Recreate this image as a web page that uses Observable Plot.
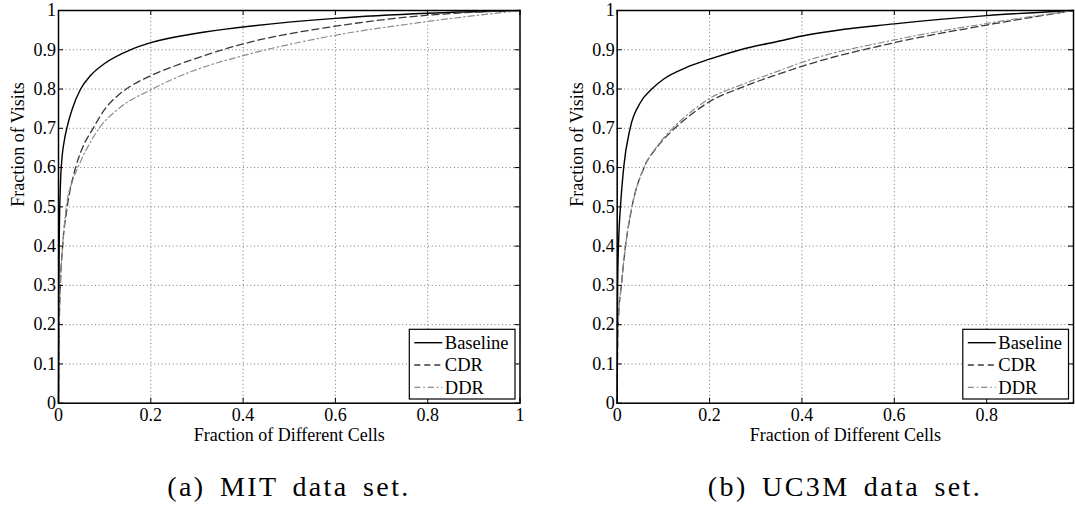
<!DOCTYPE html>
<html><head><meta charset="utf-8">
<script src="https://cdn.jsdelivr.net/npm/d3@7"></script>
<script src="https://cdn.jsdelivr.net/npm/@observablehq/plot@0.6"></script>
<style>
html,body{margin:0;padding:0;background:#fff;}
#root{position:relative;width:1075px;height:516px;overflow:hidden;background:#fff;}
.panel{position:absolute;top:0;}
.cap{position:absolute;top:471px;font-family:"Liberation Serif";font-size:28px;letter-spacing:2.4px;word-spacing:5px;transform:translateX(-50%);white-space:nowrap;color:#000;}
</style></head><body>
<div id="root"></div>
<script>
// ---- data ----
const seriesNames = ["Baseline", "CDR", "DDR"];
const yTicks = [0, 0.1, 0.2, 0.3, 0.4, 0.5, 0.6, 0.7, 0.8, 0.9, 1];
const yTickLabels = ["0", "0.1", "0.2", "0.3", "0.4", "0.5", "0.6", "0.7", "0.8", "0.9", "1"];
const mitXTicks = [0, 0.2, 0.4, 0.6, 0.8, 1];
const mitXTickLabels = ["0", "0.2", "0.4", "0.6", "0.8", "1"];
const uc3mXTicks = [0, 0.2, 0.4, 0.6, 0.8];
const uc3mXTickLabels = ["0", "0.2", "0.4", "0.6", "0.8"];

// MIT data set
const mitBaseX = [0, 0.0005, 0.001, 0.002, 0.004, 0.008, 0.012, 0.019, 0.03, 0.048, 0.07, 0.1, 0.156, 0.2, 0.3, 0.4, 0.6, 0.8, 1];
const mitBaseY = [0, 0.2, 0.33, 0.45, 0.55, 0.63, 0.665, 0.705, 0.75, 0.8, 0.835, 0.865, 0.9, 0.918, 0.942, 0.958, 0.98, 0.993, 1];
const mitCdrX = [0, 0.001, 0.002, 0.004, 0.009, 0.019, 0.037, 0.05, 0.075, 0.1, 0.13, 0.16, 0.2, 0.25, 0.3, 0.4, 0.6, 0.8, 1];
const mitCdrY = [0, 0.15, 0.22, 0.3, 0.4, 0.5, 0.6, 0.645, 0.7, 0.748, 0.785, 0.81, 0.834, 0.858, 0.879, 0.915, 0.96, 0.988, 1];
const mitDdrX = [0, 0.001, 0.002, 0.004, 0.009, 0.017, 0.03, 0.042, 0.06, 0.088, 0.13, 0.2, 0.3, 0.4, 0.6, 0.8, 1];
const mitDdrY = [0, 0.15, 0.22, 0.3, 0.4, 0.5, 0.565, 0.6, 0.645, 0.7, 0.75, 0.798, 0.85, 0.885, 0.937, 0.972, 1];

// UC3M data set
const uc3mBaseX = [0, 0.0005, 0.001, 0.002, 0.004, 0.007, 0.014, 0.028, 0.05, 0.075, 0.1, 0.15, 0.2, 0.267, 0.354, 0.4, 0.6, 0.8, 0.988];
const uc3mBaseY = [0, 0.2, 0.3, 0.37, 0.44, 0.5, 0.6, 0.7, 0.765, 0.8, 0.825, 0.855, 0.876, 0.9, 0.923, 0.935, 0.966, 0.987, 1];
const uc3mCdrX = [0, 0.001, 0.003, 0.009, 0.018, 0.032, 0.058, 0.085, 0.12, 0.16, 0.2, 0.267, 0.354, 0.4, 0.6, 0.8, 0.988];
const uc3mCdrY = [0, 0.15, 0.22, 0.3, 0.4, 0.5, 0.6, 0.65, 0.695, 0.735, 0.768, 0.803, 0.84, 0.858, 0.918, 0.963, 1];
const uc3mDdrX = [0, 0.001, 0.003, 0.009, 0.018, 0.032, 0.058, 0.085, 0.12, 0.16, 0.2, 0.267, 0.354, 0.4, 0.6, 0.8, 0.988];
const uc3mDdrY = [0, 0.15, 0.22, 0.3, 0.4, 0.5, 0.6, 0.652, 0.7, 0.742, 0.776, 0.81, 0.848, 0.868, 0.925, 0.967, 1];

const xLabel = "Fraction of Different Cells";
const yLabel = "Fraction of Visits";
const captions = ["(a) MIT data set.", "(b) UC3M data set."];

// ---- styles ----
const FONT = "Liberation Serif";
const styles = {
  Baseline: {stroke: "#000", strokeWidth: 1.4, dash: null, legendDash: null},
  CDR: {stroke: "#383838", strokeWidth: 1.3, dash: "7,4", legendDash: "6,4"},
  DDR: {stroke: "#8c8c8c", strokeWidth: 1.2, dash: "6,3,1.5,3", legendDash: "6,3,1.5,3"}
};

function toRows(xs, ys) { return xs.map((x, i) => ({x, y: ys[i]})); }

function panel({left, width, marginLeft, marginRight, xmax, xTicks, xTickLabels, series}) {
  const height = 450, marginTop = 10, marginBottom = 47.3;
  const innerH = height - marginTop - marginBottom;
  const innerW = width - marginLeft - marginRight;
  const tickLen = 5;
  const gridStyle = {stroke: "#666", strokeOpacity: 1, strokeWidth: 0.9, strokeDasharray: "1,2.7"};
  const marks = [
    Plot.gridX(xTicks, gridStyle),
    Plot.gridY(yTicks, gridStyle)
  ];
  seriesNames.forEach((name, i) => {
    const s = styles[name];
    marks.push(Plot.line(series[i], {x: "x", y: "y", stroke: s.stroke, strokeWidth: s.strokeWidth,
      strokeDasharray: s.dash, curve: "monotone-x"}));
  });
  marks.push(
    Plot.tickX(xTicks, {x: d => d, insetTop: innerH - tickLen, stroke: "#000", strokeWidth: 1}),
    Plot.tickX(xTicks, {x: d => d, insetBottom: innerH - tickLen, stroke: "#000", strokeWidth: 1}),
    Plot.tickY(yTicks, {y: d => d, insetRight: innerW - tickLen, stroke: "#000", strokeWidth: 1}),
    Plot.tickY(yTicks, {y: d => d, insetLeft: innerW - tickLen, stroke: "#000", strokeWidth: 1}),
    Plot.frame({stroke: "#000", strokeWidth: 1.5}),
    Plot.axisX(xTicks, {tickSize: 0, tickPadding: 5, label: null, fontFamily: FONT, fontSize: 18,
      tickFormat: d => xTickLabels[xTicks.indexOf(d)]}),
    Plot.axisY(yTicks, {tickSize: 0, tickPadding: 2.5, label: null, fontFamily: FONT, fontSize: 18,
      tickFormat: d => yTickLabels[yTicks.indexOf(d)]}),
    Plot.text([xLabel], {text: d => d, frameAnchor: "bottom", dy: 38, fontFamily: FONT, fontSize: 18}),
    Plot.text([yLabel], {text: d => d, frameAnchor: "left", dx: -40, rotate: -90, fontFamily: FONT, fontSize: 18})
  );
  const plot = Plot.plot({
    width, height, marginTop, marginBottom, marginLeft, marginRight,
    x: {domain: [0, xmax], label: null},
    y: {domain: [0, 1], label: null},
    style: {fontFamily: FONT, fontSize: "18px", color: "#000", background: "#fff", overflow: "visible"},
    marks
  });
  plot.classList.add("panel");
  plot.style.left = left + "px";
  // legend box (lower right, inside the frame)
  const xs = plot.scale("x"), ys = plot.scale("y");
  const fr = xs.apply(xmax), fb = ys.apply(0);
  const bw = 105.7, bh = 69.7;
  const bx = fr - 4.5 - bw, by = fb - 3.7 - bh;
  const g = d3.select(plot).append("g")
    .attr("font-family", FONT).attr("font-size", 18.5).attr("text-anchor", "start");
  g.append("rect").attr("x", bx).attr("y", by).attr("width", bw).attr("height", bh)
    .attr("fill", "#fff").attr("stroke", "#000").attr("stroke-width", 1.2);
  seriesNames.forEach((name, i) => {
    const s = styles[name];
    const cy = by + 13.4 + i * 22.3;
    g.append("line").attr("x1", bx + 5).attr("x2", bx + 33).attr("y1", cy).attr("y2", cy)
      .attr("stroke", s.stroke).attr("stroke-width", s.strokeWidth)
      .attr("stroke-dasharray", s.legendDash);
    g.append("text").attr("x", bx + 35.5).attr("y", cy).attr("dy", "0.34em")
      .attr("text-anchor", "start").text(name);
  });
  return plot;
}

const root = document.getElementById("root");
root.appendChild(panel({left: 0, width: 540, marginLeft: 58, marginRight: 20.5, xmax: 1,
  xTicks: mitXTicks, xTickLabels: mitXTickLabels,
  series: [toRows(mitBaseX, mitBaseY), toRows(mitCdrX, mitCdrY), toRows(mitDdrX, mitDdrY)]}));
root.appendChild(panel({left: 558, width: 517, marginLeft: 58.7, marginRight: 2, xmax: 0.988,
  xTicks: uc3mXTicks, xTickLabels: uc3mXTickLabels,
  series: [toRows(uc3mBaseX, uc3mBaseY), toRows(uc3mCdrX, uc3mCdrY), toRows(uc3mDdrX, uc3mDdrY)]}));

[[289, captions[0]], [845, captions[1]]].forEach(([cx, t]) => {
  const d = document.createElement("div");
  d.className = "cap";
  d.style.left = cx + "px";
  d.textContent = t;
  root.appendChild(d);
});
</script>
</body></html>
